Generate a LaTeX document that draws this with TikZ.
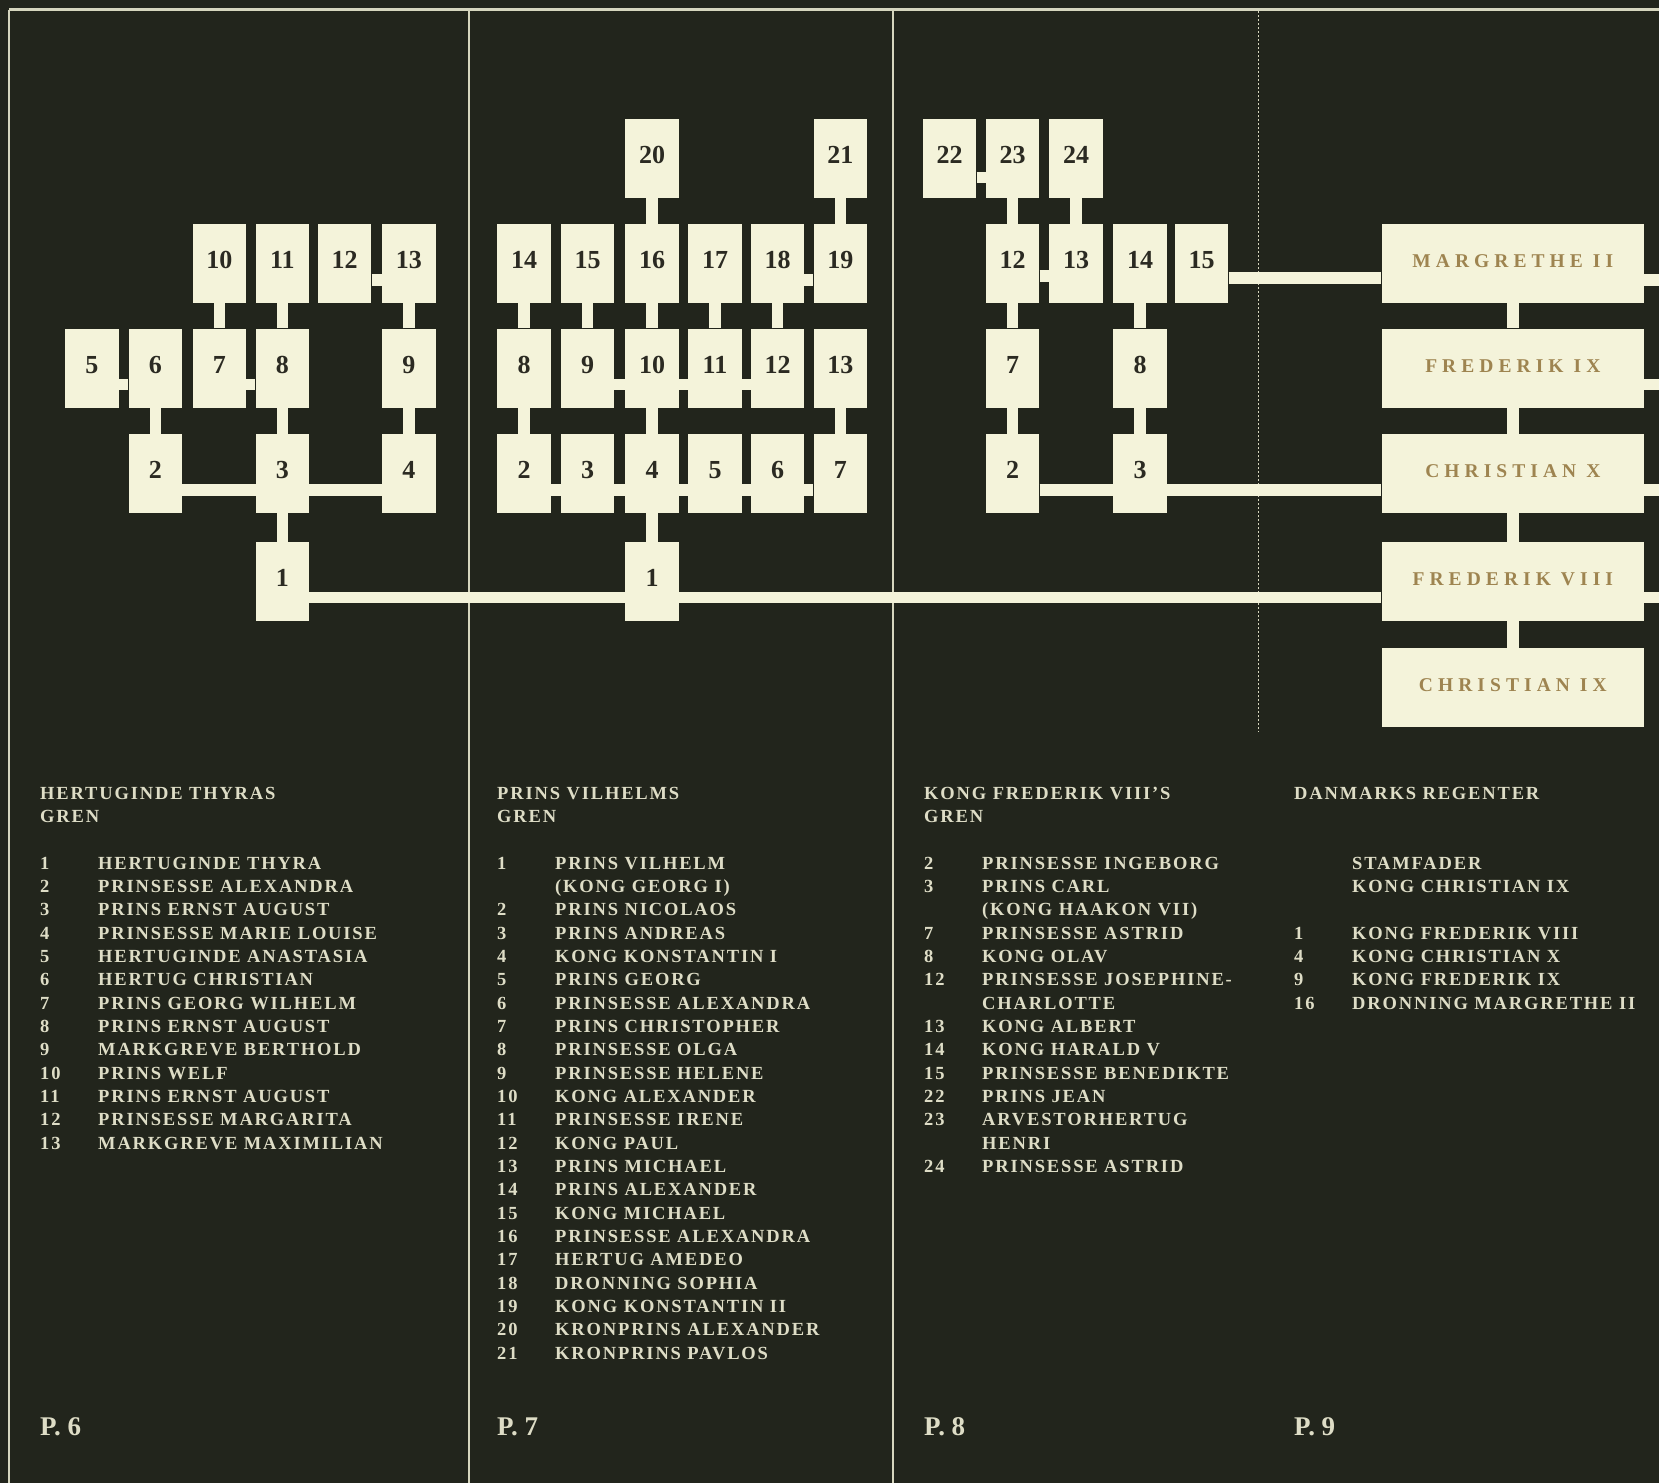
\documentclass[tikz,border=0pt]{standalone}
\usepackage{fontspec}
\setmainfont{Liberation Serif}
\newfontfamily\listfont[LetterSpace=10]{Liberation Serif}
\newfontfamily\regentfont[LetterSpace=26]{Liberation Serif}
\usepackage{xcolor}
\definecolor{board}{HTML}{22251C}
\definecolor{cream}{HTML}{F4F3DA}
\definecolor{ink}{HTML}{2B2A22}
\definecolor{gold}{HTML}{9E8450}
\definecolor{chalk}{HTML}{DEDDC6}
\definecolor{frame}{HTML}{D6D6BE}
\pgfdeclarelayer{paper}
\pgfdeclarelayer{links}
\pgfsetlayers{paper,links,main}
\newcommand{\branchhead}[1]{\multicolumn{2}{@{}l@{}}{#1}}

\begin{document}
\begin{tikzpicture}[x=1pt, y=-1pt,
    box/.style={rectangle, fill=cream, minimum width=53.5pt, minimum height=79pt, inner sep=0pt, text=ink, text height=18pt, text depth=8pt, font=\bfseries\fontsize{26}{26}\selectfont},
    regent/.style={box, minimum width=262.3pt, text=gold, text height=13pt, text depth=5pt, font=\regentfont\bfseries\fontsize{19.5}{19.5}\selectfont},
    link/.style={draw=cream, line width=11.5pt},
    divider/.style={draw=frame, line width=2.5pt},
    listing/.style={anchor=base west, inner sep=0pt, text=chalk, font=\listfont\bfseries\fontsize{18.5}{23.33}\selectfont},
    pagelabel/.style={anchor=base west, inner sep=0pt, text=chalk, font=\bfseries\fontsize{27}{27}\selectfont}]
\useasboundingbox (0,0) rectangle (1659,1483);
% Hertuginde Thyras gren
\node[box] (th1) at (282.3,581.2) {1};
\node[box] (th2) at (155.3,473.7) {2};
\node[box] (th3) at (282.3,473.7) {3};
\node[box] (th4) at (408.9,473.7) {4};
\node[box] (th5) at (91.8,368) {5};
\node[box] (th6) at (155.3,368) {6};
\node[box] (th7) at (219.3,368) {7};
\node[box] (th8) at (282.3,368) {8};
\node[box] (th9) at (408.9,368) {9};
\node[box] (th10) at (219.3,263.3) {10};
\node[box] (th11) at (282.3,263.3) {11};
\node[box] (th12) at (344.6,263.3) {12};
\node[box] (th13) at (408.9,263.3) {13};
% Prins Vilhelms gren
\node[box] (vi1) at (652,581.2) {1};
\node[box] (vi2) at (524.2,473.7) {2};
\node[box] (vi3) at (587.5,473.7) {3};
\node[box] (vi4) at (652,473.7) {4};
\node[box] (vi5) at (715,473.7) {5};
\node[box] (vi6) at (777.5,473.7) {6};
\node[box] (vi7) at (840.3,473.7) {7};
\node[box] (vi8) at (524.2,368) {8};
\node[box] (vi9) at (587.5,368) {9};
\node[box] (vi10) at (652,368) {10};
\node[box] (vi11) at (715,368) {11};
\node[box] (vi12) at (777.5,368) {12};
\node[box] (vi13) at (840.3,368) {13};
\node[box] (vi14) at (524.2,263.3) {14};
\node[box] (vi15) at (587.5,263.3) {15};
\node[box] (vi16) at (652,263.3) {16};
\node[box] (vi17) at (715,263.3) {17};
\node[box] (vi18) at (777.5,263.3) {18};
\node[box] (vi19) at (840.3,263.3) {19};
\node[box] (vi20) at (652,158.5) {20};
\node[box] (vi21) at (840.3,158.5) {21};
% Kong Frederik VIII's gren
\node[box] (fr2) at (1012.7,473.7) {2};
\node[box] (fr3) at (1140,473.7) {3};
\node[box] (fr7) at (1012.7,368) {7};
\node[box] (fr8) at (1140,368) {8};
\node[box] (fr12) at (1012.7,263.3) {12};
\node[box] (fr13) at (1076,263.3) {13};
\node[box] (fr14) at (1140,263.3) {14};
\node[box] (fr15) at (1201.7,263.3) {15};
\node[box] (fr22) at (949.7,158.5) {22};
\node[box] (fr23) at (1012.7,158.5) {23};
\node[box] (fr24) at (1076,158.5) {24};
% Danmarks regenter
\node[regent] (margrethe) at (1512.8,263.3) {MARGRETHE II};
\node[regent] (frederikix) at (1512.8,368) {FREDERIK IX};
\node[regent] (christianx) at (1512.8,473.7) {CHRISTIAN X};
\node[regent] (frederikviii) at (1512.8,581.2) {FREDERIK VIII};
\node[regent] (christianix) at (1512.8,687.4) {CHRISTIAN IX};
\coordinate (rim) at (1659,0);
% lists
\node[listing] (thyralist) at (40,799.3) {\begin{tabular}[t]{@{}p{58pt}@{}l@{}}
\branchhead{HERTUGINDE THYRAS}\\ \branchhead{GREN}\\ \\
1 & HERTUGINDE THYRA\\ 2 & PRINSESSE ALEXANDRA\\ 3 & PRINS ERNST AUGUST\\
4 & PRINSESSE MARIE LOUISE\\ 5 & HERTUGINDE ANASTASIA\\ 6 & HERTUG CHRISTIAN\\
7 & PRINS GEORG WILHELM\\ 8 & PRINS ERNST AUGUST\\ 9 & MARKGREVE BERTHOLD\\
10 & PRINS WELF\\ 11 & PRINS ERNST AUGUST\\ 12 & PRINSESSE MARGARITA\\
13 & MARKGREVE MAXIMILIAN
\end{tabular}};
\node[listing] (vilhelmlist) at (497,799.3) {\begin{tabular}[t]{@{}p{58pt}@{}l@{}}
\branchhead{PRINS VILHELMS}\\ \branchhead{GREN}\\ \\
1 & PRINS VILHELM\\ & (KONG GEORG I)\\ 2 & PRINS NICOLAOS\\ 3 & PRINS ANDREAS\\
4 & KONG KONSTANTIN I\\ 5 & PRINS GEORG\\ 6 & PRINSESSE ALEXANDRA\\
7 & PRINS CHRISTOPHER\\ 8 & PRINSESSE OLGA\\ 9 & PRINSESSE HELENE\\
10 & KONG ALEXANDER\\ 11 & PRINSESSE IRENE\\ 12 & KONG PAUL\\
13 & PRINS MICHAEL\\ 14 & PRINS ALEXANDER\\ 15 & KONG MICHAEL\\
16 & PRINSESSE ALEXANDRA\\ 17 & HERTUG AMEDEO\\ 18 & DRONNING SOPHIA\\
19 & KONG KONSTANTIN II\\ 20 & KRONPRINS ALEXANDER\\ 21 & KRONPRINS PAVLOS
\end{tabular}};
\node[listing] (frederiklist) at (924,799.3) {\begin{tabular}[t]{@{}p{58pt}@{}l@{}}
\branchhead{KONG FREDERIK VIII’S}\\ \branchhead{GREN}\\ \\
2 & PRINSESSE INGEBORG\\ 3 & PRINS CARL\\ & (KONG HAAKON VII)\\
7 & PRINSESSE ASTRID\\ 8 & KONG OLAV\\ 12 & PRINSESSE JOSEPHINE-\\ & CHARLOTTE\\
13 & KONG ALBERT\\ 14 & KONG HARALD V\\ 15 & PRINSESSE BENEDIKTE\\
22 & PRINS JEAN\\ 23 & ARVESTORHERTUG\\ & HENRI\\ 24 & PRINSESSE ASTRID
\end{tabular}};
\node[listing] (regentlist) at (1294,799.3) {\begin{tabular}[t]{@{}p{58pt}@{}l@{}}
\branchhead{DANMARKS REGENTER}\\ \\ \\
& STAMFADER\\ & KONG CHRISTIAN IX\\ \\
1 & KONG FREDERIK VIII\\ 4 & KONG CHRISTIAN X\\ 9 & KONG FREDERIK IX\\
16 & DRONNING MARGRETHE II
\end{tabular}};
\node[pagelabel] (p6) at (40,1435) {P. 6};
\node[pagelabel] (p7) at (497,1435) {P. 7};
\node[pagelabel] (p8) at (924,1435) {P. 8};
\node[pagelabel] (p9) at (1294,1435) {P. 9};
% connectors
\begin{pgfonlayer}{links}
\draw[link] (th1) -- (th3); \draw[link] (th3) -- (th8); \draw[link] (th2) -- (th6);
\draw[link] (th4) -- (th9); \draw[link] (th7) -- (th10); \draw[link] (th8) -- (th11);
\draw[link] (th9) -- (th13);
\draw[link] ([yshift=-16.5pt]th2.east) -- ([yshift=-16.5pt]th4.west);
\draw[link] ([yshift=-16.5pt]th5.east) -- ([yshift=-16.5pt]th6.west);
\draw[link] ([yshift=-16.5pt]th7.east) -- ([yshift=-16.5pt]th8.west);
\draw[link] ([yshift=-16.5pt]th12.east) -- ([yshift=-16.5pt]th13.west);
\draw[link] ([yshift=-16.5pt]th1.east) -- ([yshift=-16.5pt]frederikviii.west);
\draw[link] (vi1) -- (vi4); \draw[link] (vi2) -- (vi8); \draw[link] (vi4) -- (vi10);
\draw[link] (vi7) -- (vi13); \draw[link] (vi8) -- (vi14); \draw[link] (vi9) -- (vi15);
\draw[link] (vi10) -- (vi16); \draw[link] (vi11) -- (vi17); \draw[link] (vi12) -- (vi18);
\draw[link] (vi16) -- (vi20); \draw[link] (vi19) -- (vi21);
\draw[link] ([yshift=-16.5pt]vi2.east) -- ([yshift=-16.5pt]vi7.west);
\draw[link] ([yshift=-16.5pt]vi9.east) -- ([yshift=-16.5pt]vi12.west);
\draw[link] ([yshift=-16.5pt]vi18.east) -- ([yshift=-16.5pt]vi19.west);
\draw[link] (fr2) -- (fr7); \draw[link] (fr7) -- (fr12); \draw[link] (fr12) -- (fr23);
\draw[link] (fr13) -- (fr24); \draw[link] (fr3) -- (fr8); \draw[link] (fr8) -- (fr14);
\draw[link] ([yshift=-19pt]fr22.east) -- ([yshift=-19pt]fr23.west);
\draw[link] ([yshift=-12.5pt]fr12.east) -- ([yshift=-12.5pt]fr13.west);
\draw[link] ([yshift=-16.5pt]fr2.east) -- ([yshift=-16.5pt]christianx.west);
\draw[link] ([yshift=-14.5pt]fr15.east) -- ([yshift=-14.5pt]margrethe.west);
\draw[link] (margrethe) -- (frederikix); \draw[link] (frederikix) -- (christianx);
\draw[link] (christianx) -- (frederikviii); \draw[link] (frederikviii) -- (christianix);
\foreach \r in {margrethe, frederikix, christianx, frederikviii}
  \draw[link] ([yshift=-16.5pt]\r.east) -- ([yshift=-16.5pt]\r.center -| rim);
\end{pgfonlayer}
% page frame
\begin{pgfonlayer}{paper}
\fill[board] (0,0) rectangle (1659,1483);
\draw[divider] (9,9.5) -- (1659,9.5);
\draw[divider] (9,9.5) -- (9,1483);
\draw[divider] (469,9.5) -- (469,1483);
\draw[divider] (893,9.5) -- (893,1483);
\draw[draw=frame, line width=1.6pt, dash pattern=on 1.6pt off 2.4pt] (1258.3,11) -- (1258.3,732);
\end{pgfonlayer}
\end{tikzpicture}
\end{document}
